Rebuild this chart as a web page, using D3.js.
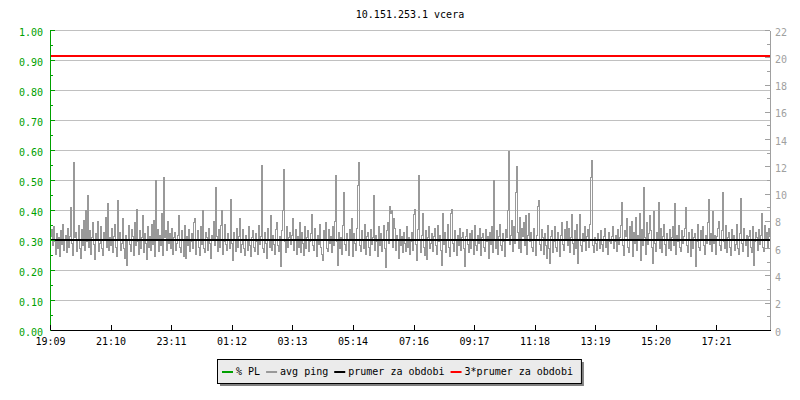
<!DOCTYPE html>
<html>
<head>
<meta charset="utf-8">
<script src="https://cdn.jsdelivr.net/npm/d3@7"></script>
<style>
  html, body { margin: 0; padding: 0; background: #fff; }
  svg { display: block; }
  text { font-family: "DejaVu Sans Mono", monospace; font-size: 10px; }
</style>
</head>
<body>
<svg id="chart" width="800" height="400"></svg>
<script>
// ---------------- DATA ----------------
const chartTitle = "10.151.253.1 vcera";
const startLabel = "19:09";              // start of the 24h window
const sampleStepMinutes = 2;             // one sample every 2 minutes
const timeTickLabels = ["19:09","21:10","23:11","01:12","03:13","05:14","07:16","09:17","11:18","13:19","15:20","17:21"];
const leftTickValues = [0,0.1,0.2,0.3,0.4,0.5,0.6,0.7,0.8,0.9,1.0];
const rightTickValues = [0,2,4,6,8,10,12,14,16,18,20,22];
const legendLabels = ["% PL", "avg ping", "prumer za obdobi", "3*prumer za obdobi"];
const packetLoss = [0, 0];               // % PL, zero over the whole period
const meanPing = 6.62;                   // "prumer za obdobi" (ms)
const tripleMeanPing = 20.06;            // "3*prumer za obdobi" (ms)
// avg ping (ms)
const avgPing = [
6.9,7.4,6.2,7.6,6.5,5.6,7.1,6.0,6.8,5.4,7.3,6.3,7.8,5.9,6.6,7.0,5.7,7.5,6.1,6.9,
9.0,6.4,5.5,12.3,6.8,7.2,5.8,6.6,7.7,6.0,5.3,7.4,6.2,8.1,5.9,8.8,6.5,9.9,6.1,7.3,
5.6,6.8,7.9,6.3,5.2,7.1,6.6,8.0,5.8,6.4,7.6,6.0,5.5,7.2,6.7,8.3,6.1,9.3,5.9,6.8,
6.2,7.5,5.7,6.9,7.8,6.1,5.4,9.5,6.7,7.2,5.9,6.4,8.2,6.0,5.3,7.0,4.8,6.6,7.7,6.3,
5.8,7.4,6.9,5.5,7.9,6.2,8.9,6.5,5.6,7.3,6.0,6.8,8.4,5.7,7.1,6.4,5.2,7.6,6.1,6.9,
5.9,7.8,6.3,8.1,5.4,11.0,6.6,7.4,5.8,7.0,6.2,8.6,5.5,11.2,6.8,7.3,5.9,8.0,6.4,7.1,
6.0,7.5,5.6,6.8,7.2,5.9,6.4,7.0,8.4,6.1,5.7,7.3,6.6,5.4,7.7,5.3,6.9,6.2,7.4,5.8,
6.5,7.1,6.0,7.9,8.2,5.6,6.7,7.3,6.1,5.5,7.6,6.3,8.8,6.0,5.7,7.2,6.8,5.9,7.5,6.4,
5.3,7.0,6.6,8.0,6.2,10.5,6.9,5.8,7.4,6.1,7.7,8.8,5.6,6.5,7.8,6.3,5.9,7.1,6.7,6.0,
9.6,6.4,5.1,7.2,6.6,5.8,7.5,6.1,6.9,8.2,5.7,6.3,7.4,6.0,5.5,7.0,6.7,5.9,7.6,6.2,
5.4,6.8,7.3,6.1,5.8,7.1,6.5,5.6,7.7,6.3,6.9,12.1,6.0,5.7,7.2,6.4,5.3,7.5,6.6,6.1,
8.4,5.9,7.0,6.3,5.6,7.4,7.9,6.2,5.8,6.9,4.7,7.3,8.8,11.8,6.5,5.7,7.6,6.1,6.8,7.2,
6.3,7.0,8.2,5.9,6.6,7.4,5.6,6.9,6.1,7.9,5.7,7.2,6.4,5.5,7.6,6.0,6.8,7.3,5.8,6.5,
7.1,8.5,6.2,5.9,7.5,6.7,5.4,7.0,6.3,7.8,6.1,5.6,5.1,7.3,6.6,7.9,6.0,5.8,7.4,6.4,
6.9,5.7,7.6,6.2,8.0,11.4,6.5,4.8,7.2,6.0,6.8,5.6,7.7,10.1,6.3,5.9,7.1,6.6,5.5,7.4,
6.7,8.2,5.4,7.1,6.4,5.9,7.5,10.6,12.3,6.2,5.8,7.3,6.6,6.0,7.8,5.6,6.9,7.2,6.1,5.5,
7.4,6.3,6.8,9.9,5.9,7.0,6.5,5.4,7.6,6.2,7.1,5.8,6.7,7.7,6.0,4.6,7.3,7.9,6.4,9.1,
8.6,8.8,6.1,8.2,7.5,5.9,7.0,6.6,5.3,7.4,6.2,6.9,5.7,7.2,6.4,5.8,7.6,6.1,6.8,5.6,
6.5,7.2,5.9,8.5,8.9,6.3,5.1,7.4,11.4,6.6,5.7,7.0,8.6,6.1,5.5,7.3,5.2,6.8,7.6,6.0,
6.4,7.1,5.8,6.9,7.5,6.2,5.6,7.7,6.5,7.0,5.9,4.8,8.6,6.3,7.2,5.7,6.7,7.8,6.1,5.4,
8.6,8.9,6.4,5.8,7.3,6.6,5.5,7.0,6.2,7.5,5.9,6.8,7.2,6.0,4.7,6.9,7.4,6.3,5.7,7.1,
6.0,7.3,6.6,5.6,7.7,6.2,5.9,7.0,6.4,7.5,5.5,6.8,7.1,6.1,5.8,7.4,6.5,6.9,5.3,7.2,
6.3,7.6,5.7,11.0,6.7,6.0,7.3,5.6,6.9,7.8,6.2,5.9,7.1,6.5,5.4,7.4,6.8,8.8,13.1,6.3,
7.0,8.1,5.8,7.6,6.4,10.1,12.0,7.2,6.0,8.3,5.7,7.5,6.9,7.9,6.2,8.4,5.6,7.0,8.6,6.5,
7.2,6.1,5.8,7.5,6.6,5.5,7.0,9.1,9.5,6.3,5.9,7.4,6.8,5.6,7.1,6.2,5.3,7.7,6.0,4.9,
6.9,7.3,5.7,6.5,7.6,6.1,5.8,7.2,6.7,5.4,7.0,7.9,6.3,5.9,7.4,6.6,8.0,6.2,7.5,5.7,
6.8,8.5,6.4,5.6,7.3,6.0,7.8,4.9,6.7,8.5,6.2,5.8,7.1,6.5,7.6,5.9,6.9,7.4,6.1,7.8,
11.2,12.5,6.2,5.7,6.8,6.4,5.9,7.1,6.6,6.0,7.3,6.3,5.8,6.9,7.5,6.1,6.7,5.6,7.2,6.5,
6.4,6.9,7.6,6.0,6.5,7.0,5.8,7.4,6.3,6.8,7.7,9.4,6.2,5.5,7.3,6.9,8.2,6.1,5.7,7.6,
6.6,8.0,5.4,7.2,6.4,8.3,5.9,7.0,6.7,8.6,5.1,7.4,6.2,10.5,6.8,5.6,7.9,6.3,7.1,8.4,
7.3,6.1,4.9,8.7,6.4,5.8,7.2,6.6,9.4,6.0,7.5,5.7,6.9,7.8,6.3,5.5,7.1,6.7,6.0,7.4,
5.9,6.8,7.6,6.2,9.3,5.6,7.0,6.5,7.7,6.1,5.8,7.3,6.4,6.9,7.5,9.0,6.2,5.7,7.2,6.6,
5.4,7.4,6.0,6.8,7.1,4.7,6.5,7.8,6.1,5.9,7.3,6.7,7.6,6.2,5.6,7.0,6.4,7.9,9.6,6.3,
7.1,5.8,8.7,6.4,7.0,5.6,6.9,7.5,8.0,6.2,5.9,7.3,10.1,6.5,6.0,7.7,5.7,6.8,7.2,6.1,
5.5,7.4,6.6,7.0,5.9,6.3,7.8,6.0,5.6,7.1,9.7,6.4,5.8,7.5,6.7,6.2,7.0,5.4,6.9,7.3,
6.1,5.7,7.6,4.8,6.5,7.2,6.8,5.9,7.4,6.3,7.0,8.6,6.1,5.8,7.7,6.6,7.2,6.0,7.5,6.9
];

// ---------------- SETUP ----------------
const colors = { pl: "#00a000", ping: "#999999", mean: "#000000", triple: "#ff0000", grid: "#c0c0c0", rightAxis: "#a0a0a0" };
const plot = { left: 50, right: 770, top: 30, bottom: 330 };

const svg = d3.select("#chart");
svg.append("rect").attr("width", 800).attr("height", 400).attr("fill", "#fff");

const parseHM = s => { const [h, m] = s.split(":").map(Number); return [h, m]; };
const [sh, sm] = parseHM(startLabel);
const start = new Date(2024, 0, 1, sh, sm);
const end = d3.timeMinute.offset(start, 24 * 60);

const labelToDate = s => {
  const [h, m] = parseHM(s);
  let d = new Date(2024, 0, 1, h, m);
  if (d < start) d = d3.timeDay.offset(d, 1);
  return d;
};
const timeTicks = timeTickLabels.map(labelToDate);

const x = d3.scaleTime().domain([start, end]).range([plot.left, plot.right]);
const yL = d3.scaleLinear().domain([0, 1]).range([plot.bottom, plot.top]);
const yR = d3.scaleLinear().domain([0, 22]).range([plot.bottom, plot.top]);

const pingData = avgPing.map((v, i) => ({ t: d3.timeMinute.offset(start, i * sampleStepMinutes), v }));

// title
svg.append("text").attr("x", (plot.left + plot.right) / 2).attr("y", 17.5)
  .attr("text-anchor", "middle").attr("fill", "#000").text(chartTitle);

// horizontal grid
svg.append("g").selectAll("line").data(leftTickValues).join("line")
  .attr("x1", plot.left).attr("x2", plot.right)
  .attr("y1", d => Math.round(yL(d)) + 0.5).attr("y2", d => Math.round(yL(d)) + 0.5)
  .attr("stroke", colors.grid).attr("stroke-width", 1);

// packet loss series (zero) - hidden under the time axis
const plLine = d3.line().x((d, i) => x(i === 0 ? start : end)).y(d => Math.round(yL(d)) + 0.5);
svg.append("path").datum(packetLoss).attr("d", plLine)
  .attr("fill", "none").attr("stroke", colors.pl).attr("stroke-width", 1)
  .attr("shape-rendering", "crispEdges");

// avg ping series
const pingLine = d3.line()
  .x(d => Math.round(x(d.t)) + 0.5)
  .y(d => Math.round(yR(d.v)) + 0.5)
  .curve(d3.curveStepAfter);
svg.append("path").datum(pingData)
  .attr("d", pingLine).attr("fill", "none")
  .attr("stroke", colors.ping).attr("stroke-width", 1)
  .attr("shape-rendering", "crispEdges");

// mean lines
[[meanPing, colors.mean], [tripleMeanPing, colors.triple]].forEach(([v, c]) => {
  svg.append("line").attr("x1", plot.left).attr("x2", plot.right)
    .attr("y1", Math.round(yR(v))).attr("y2", Math.round(yR(v)))
    .attr("stroke", c).attr("stroke-width", 2).attr("shape-rendering", "crispEdges");
});

// ---------------- AXES ----------------
function styleAxis(g, color, textColor) {
  g.selectAll("path.domain").attr("stroke", color);
  g.selectAll(".tick line").attr("stroke", color);
  g.selectAll(".tick text").attr("fill", textColor)
    .style("font-family", '"DejaVu Sans Mono", monospace').style("font-size", "10px");
  g.attr("shape-rendering", "crispEdges");
}

// left minor ticks
const leftMinor = d3.range(0.05, 1.0, 0.1);
const gLm = svg.append("g").attr("transform", `translate(${plot.left},0)`)
  .call(d3.axisLeft(yL).tickValues(leftMinor).tickSize(-3).tickSizeOuter(0).tickFormat(""));
gLm.select("path.domain").remove();
styleAxis(gLm, colors.pl, colors.pl);

const gL = svg.append("g").attr("transform", `translate(${plot.left},0)`)
  .call(d3.axisLeft(yL).tickValues(leftTickValues).tickSize(-5).tickSizeOuter(0)
    .tickPadding(7).tickFormat(d3.format(".2f")));
gL.selectAll(".tick text").attr("dy", "0.5em");
styleAxis(gL, colors.pl, colors.pl);

// right axis
const rightMinor = d3.range(1, 22, 2);
const gRm = svg.append("g").attr("transform", `translate(${plot.right},0)`)
  .call(d3.axisRight(yR).tickValues(rightMinor).tickSize(-3).tickSizeOuter(0).tickFormat(""));
gRm.select("path.domain").remove();
styleAxis(gRm, colors.rightAxis, colors.rightAxis);

const gR = svg.append("g").attr("transform", `translate(${plot.right},0)`)
  .call(d3.axisRight(yR).tickValues(rightTickValues).tickSize(-5).tickSizeOuter(0).tickPadding(5));
gR.selectAll(".tick text").attr("dy", "0.5em");
styleAxis(gR, colors.rightAxis, colors.rightAxis);

// bottom axis
const gB = svg.append("g").attr("transform", `translate(0,${plot.bottom})`)
  .call(d3.axisBottom(x).tickValues(timeTicks).tickSize(-5).tickSizeOuter(0)
    .tickPadding(8).tickFormat(d3.timeFormat("%H:%M")));
styleAxis(gB, "#000", "#000");

// ---------------- LEGEND ----------------
const charW = 6.02;
const legendColors = [colors.pl, colors.ping, colors.mean, colors.triple];
const box = { x: 217, y: 359, h: 24 };
let cx = 222;
const items = legendLabels.map((label, i) => {
  const it = { label, color: legendColors[i], sx: cx, tx: cx + 14 };
  cx = it.tx + label.length * charW + 6;
  return it;
});
const boxW = cx - 6 + 8 - box.x;
const lg = svg.append("g");
lg.append("rect").attr("x", box.x + 3).attr("y", box.y + 3).attr("width", boxW).attr("height", box.h)
  .attr("fill", "#808080");
lg.append("rect").attr("x", box.x + 0.5).attr("y", box.y + 0.5).attr("width", boxW).attr("height", box.h)
  .attr("fill", "#ebebeb").attr("stroke", "#000").attr("stroke-width", 1);
items.forEach(it => {
  lg.append("rect").attr("x", it.sx).attr("y", 371).attr("width", 11).attr("height", 2).attr("fill", it.color);
  lg.append("text").attr("x", it.tx).attr("y", 374.5).attr("fill", "#000").text(it.label);
});
</script>
</body>
</html>
